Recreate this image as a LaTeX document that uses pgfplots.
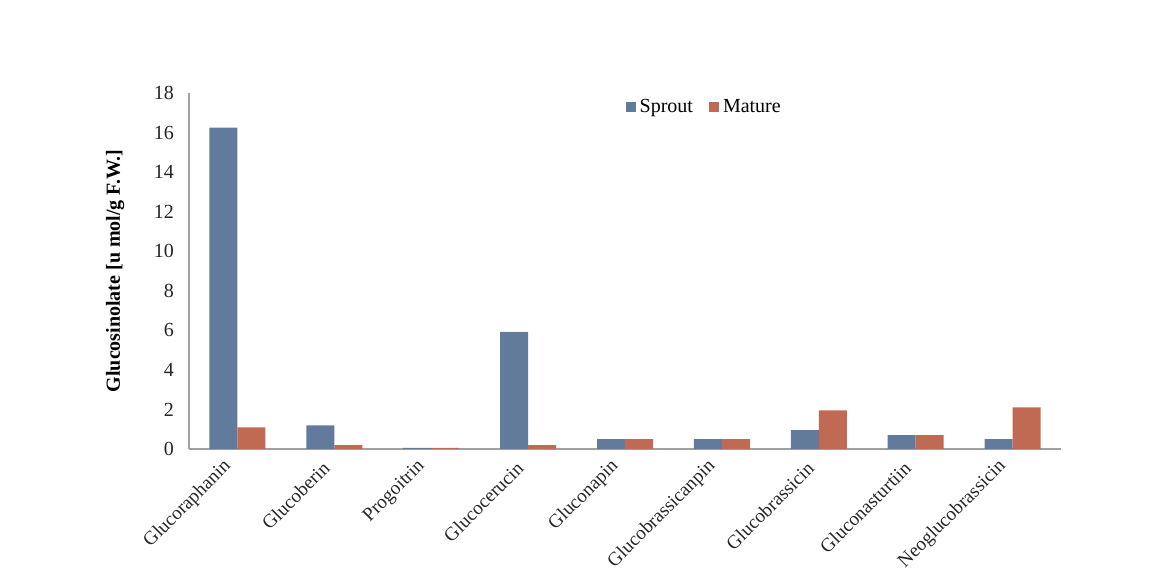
\documentclass[border=0pt]{standalone}
\usepackage{pgfplots}
\pgfplotsset{compat=1.18}
\usepackage{fontspec}
\setmainfont{Liberation Serif}
\usetikzlibrary{calc}

\definecolor{sprout}{RGB}{98,122,155}
\definecolor{mature}{RGB}{192,106,84}
\definecolor{axgray}{RGB}{160,160,160}

\begin{document}
\begin{tikzpicture}
\begin{axis}[
    name=ax,
    scale only axis,
    width=436pt, height=178pt,
    ybar=0pt, bar width=14pt,
    xmin=-0.5, xmax=8.5,
    ymin=0, ymax=18,
    ytick={0,2,...,18},
    xtick={0,...,8},
    xticklabels={Glucoraphanin,Glucoberin,Progoitrin,Glucocerucin,Gluconapin,Glucobrassicanpin,Glucobrassicin,Gluconasturtiin,Neoglucobrassicin},
    axis x line*=bottom, axis y line*=left,
    axis line style={axgray, line width=0.8pt},
    major tick length=0pt,
    tick label style={font=\fontsize{10}{12}\selectfont, text=black!85},
    /pgf/number format/assume math mode=true,
    yticklabel style={xshift=-4pt},
    xticklabel shift=10.5pt,
    xticklabel style={anchor=south east, rotate=45, inner sep=1pt,
        font=\fontsize{9.6}{11}\selectfont},
    ylabel={\textbf{Glucosinolate [u mol/g F.W.]}},
    ylabel style={font=\fontsize{10}{12}\selectfont, yshift=8pt},
    legend style={at={(0.592,0.96)}, anchor=center, draw=none, fill=none,
        font=\fontsize{10}{12}\selectfont, legend columns=2,
        /tikz/every even column/.append style={column sep=6pt}},
    legend image code/.code={\draw[#1, draw=none] (0pt,-2.5pt) rectangle (5pt,2.5pt);},
]
\addplot[fill=sprout, draw=none] coordinates {
 (0,16.25) (1,1.2) (2,0.06) (3,5.92) (4,0.5) (5,0.5) (6,0.95) (7,0.7) (8,0.5)};
\addplot[fill=mature, draw=none] coordinates {
 (0,1.1) (1,0.2) (2,0.06) (3,0.2) (4,0.5) (5,0.5) (6,1.95) (7,0.7) (8,2.1)};
\legend{Sprout,Mature}
\end{axis}
\pgfresetboundingbox
\path[use as bounding box] ($(ax.south west)+(-94.5pt,-62.5pt)$) rectangle ($(ax.north east)+(50pt,46.5pt)$);
\end{tikzpicture}
\end{document}
